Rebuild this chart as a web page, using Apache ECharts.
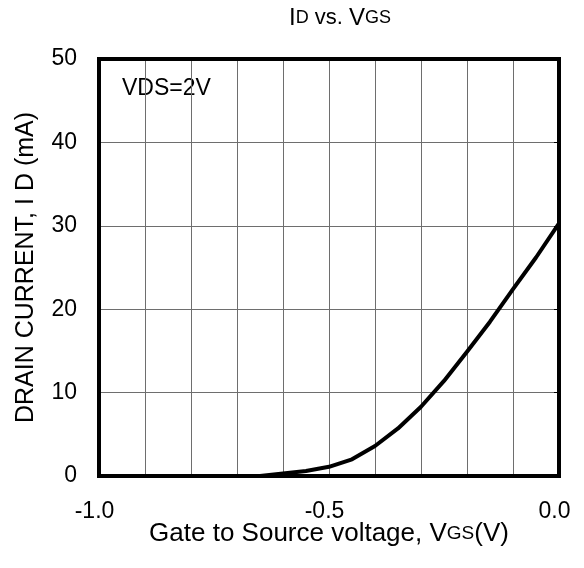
<!DOCTYPE html>
<html>
<head>
<meta charset="utf-8">
<script src="https://cdn.jsdelivr.net/npm/echarts@6/dist/echarts.min.js"></script>
<style>
  html, body { margin: 0; padding: 0; background: #fff; }
  #chart { width: 584px; height: 568px; }
</style>
</head>
<body>
<div id="chart"></div>
<script>
// gate-source voltage (V) and drain current (mA)
var vgs = [-0.65, -0.6, -0.55, -0.5, -0.45, -0.4, -0.35, -0.3, -0.25, -0.2, -0.15, -0.1, -0.05, 0.0];
var idrain = [0, 0.3, 0.6, 1.1, 2.0, 3.6, 5.7, 8.3, 11.4, 14.9, 18.5, 22.4, 26.2, 30.3];
var xTickLabels = ['-1.0', '-0.5', '0.0'];
var yTickLabels = ['0', '10', '20', '30', '40', '50'];

var FONT = 'Liberation Sans, Arial, sans-serif';

var chart = echarts.init(document.getElementById('chart'));

var points = vgs.map(function (v, i) { return [v, idrain[i]]; });

function xLabel(v) {
    var s = (Math.round(v * 10) / 10).toFixed(1);
    if (s === '-0.0') s = '0.0';
    return xTickLabels.indexOf(s) >= 0 ? s : '';
}
function yLabel(v) {
    var s = String(Math.round(v));
    return yTickLabels.indexOf(s) >= 0 ? s : '';
}

// thick black frame, kept at the plot edges
var frame = { show: true, onZero: false, lineStyle: { color: '#000', width: 4, cap: 'square' } };

chart.setOption({
    backgroundColor: '#fff',
    animation: false,
    title: {
        text: '{b|I}{s|D}{n| vs. }{b|V}{s|GS}',
        left: 335,
        top: 1,
        textAlign: 'center',
        textStyle: {
            rich: {
                b: { fontFamily: FONT, fontSize: 24, fontWeight: 'normal', color: '#000' },
                n: { fontFamily: FONT, fontSize: 22, fontWeight: 'normal', color: '#000' },
                s: { fontFamily: FONT, fontSize: 18, fontWeight: 'normal', color: '#000' }
            }
        }
    },
    grid: { left: 99, top: 59, right: 25, bottom: 92 },
    xAxis: [{
        type: 'value',
        min: -1, max: 0, interval: 0.1,
        position: 'bottom',
        axisLine: frame,
        axisTick: { show: false },
        splitLine: { show: true, lineStyle: { color: '#6e6e6e', width: 1 } },
        axisLabel: {
            formatter: xLabel, color: '#000', fontFamily: FONT, fontSize: 23,
            margin: 24, padding: [0, 9, 0, 0]
        },
        name: '{n|Gate to Source voltage, V}{s|GS}{n|(V)}',
        nameLocation: 'middle',
        nameGap: 45,
        nameMoveOverlap: false,
        nameTextStyle: {
            rich: {
                n: { fontFamily: FONT, fontSize: 26, color: '#000' },
                s: { fontFamily: FONT, fontSize: 19, color: '#000' }
            }
        }
    }, {
        type: 'value',
        min: -1, max: 0, interval: 0.1,
        position: 'top',
        axisLine: frame,
        axisTick: { show: false },
        axisLabel: { show: false },
        splitLine: { show: false }
    }],
    yAxis: [{
        type: 'value',
        min: 0, max: 50, interval: 10,
        position: 'left',
        axisLine: frame,
        axisTick: { show: false },
        splitLine: { show: true, lineStyle: { color: '#6e6e6e', width: 1 } },
        axisLabel: { formatter: yLabel, color: '#000', fontFamily: FONT, fontSize: 23, margin: 22 },
        name: 'DRAIN CURRENT, I D (mA)',
        nameLocation: 'middle',
        nameGap: 60,
        nameMoveOverlap: false,
        nameTextStyle: { fontFamily: FONT, fontSize: 25, color: '#000' }
    }, {
        type: 'value',
        min: 0, max: 50, interval: 10,
        position: 'right',
        axisLine: frame,
        axisTick: { show: true, inside: true, length: 5, lineStyle: { color: '#000', width: 1 } },
        axisLabel: { show: false },
        splitLine: { show: false }
    }],
    graphic: [{
        type: 'group',
        left: 101,
        top: 61,
        z: 50,
        children: [{
            type: 'rect',
            shape: { x: 0, y: 0, width: 114, height: 61 },
            style: { fill: '#fff' }
        }, {
            type: 'text',
            x: 21,
            y: 16,
            style: { text: 'VDS=2V', font: '23px ' + FONT, fill: '#000' }
        }]
    }],
    series: [{
        type: 'line',
        data: points,
        showSymbol: false,
        clip: false,
        z: 3,
        lineStyle: { color: '#000', width: 4, join: 'round' }
    }]
});
</script>
</body>
</html>
